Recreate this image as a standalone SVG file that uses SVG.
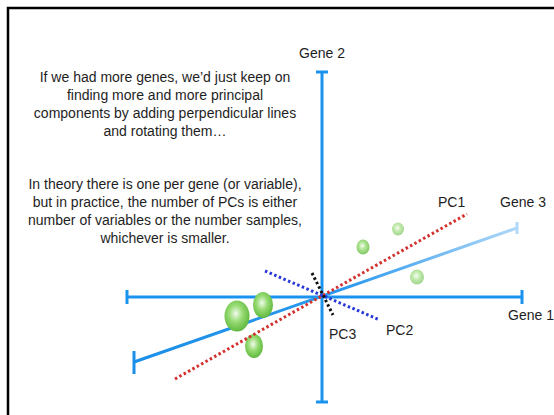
<svg xmlns="http://www.w3.org/2000/svg" width="554" height="415" viewBox="0 0 554 415">
<defs>
<style>
.t{font-family:"Liberation Sans",Arial,sans-serif;font-size:14px;fill:#1e1e1e;text-anchor:middle}
.lbl{font-family:"Liberation Sans",Arial,sans-serif;font-size:14px;fill:#1e1e1e}
.ax{stroke:#1b93ee;stroke-width:3;fill:none}
.dot{stroke-width:3;stroke-dasharray:2.5 2.5;fill:none}
</style>
<linearGradient id="g3" gradientUnits="userSpaceOnUse" x1="134" y1="362" x2="517" y2="228">
<stop offset="0" stop-color="#1b8fe8"/>
<stop offset="0.55" stop-color="#2a98ee"/>
<stop offset="1" stop-color="#b0d8f8"/>
</linearGradient>
<radialGradient id="ball" cx="0.45" cy="0.42" r="0.6">
<stop offset="0" stop-color="#f2fbee"/>
<stop offset="0.45" stop-color="#98dc74"/>
<stop offset="1" stop-color="#5db63c"/>
</radialGradient>
</defs>
<rect x="8" y="8" width="560" height="420" fill="#fff" stroke="#000" stroke-width="2.5"/>

<g id="text-block">
<text class="t" x="165" y="82">If we had more genes, we’d just keep on</text>
<text class="t" x="165" y="100">finding more and more principal</text>
<text class="t" x="165" y="118">components by adding perpendicular lines</text>
<text class="t" x="165" y="136">and rotating them…</text>
<text class="t" x="165" y="189">In theory there is one per gene (or variable),</text>
<text class="t" x="165" y="207">but in practice, the number of PCs is either</text>
<text class="t" x="165" y="225">number of variables or the number samples,</text>
<text class="t" x="165" y="243">whichever is smaller.</text>
</g>

<g id="axes">
<g id="gene1-axis">
<line class="ax" x1="127" y1="297" x2="522" y2="297"/>
<line class="ax" x1="127" y1="290" x2="127" y2="304"/>
<line class="ax" x1="522" y1="290" x2="522" y2="304"/>
</g>
<g id="gene2-axis">
<line class="ax" x1="322" y1="72" x2="322" y2="402"/>
<line class="ax" x1="316" y1="72" x2="328" y2="72"/>
<line class="ax" x1="316" y1="402" x2="328" y2="402"/>
</g>
<g id="gene3-axis">
<line x1="134" y1="362" x2="517" y2="228" stroke="url(#g3)" stroke-width="3"/>
<line x1="134" y1="351" x2="134" y2="374" stroke="#1b8fe8" stroke-width="3"/>
<line x1="517" y1="222" x2="517" y2="234" stroke="#b0d8f8" stroke-width="3"/>
</g>
</g>

<g id="points">
<ellipse cx="237" cy="316" rx="12.5" ry="15.5" fill="url(#ball)"/>
<ellipse cx="263" cy="305" rx="10" ry="13" fill="url(#ball)"/>
<ellipse cx="254" cy="346" rx="9" ry="12" fill="url(#ball)"/>
<ellipse cx="363" cy="247" rx="6.5" ry="7.5" fill="url(#ball)" opacity="0.8"/>
<ellipse cx="398" cy="229" rx="6" ry="6.5" fill="url(#ball)" opacity="0.6"/>
<ellipse cx="417" cy="277" rx="7" ry="7.5" fill="url(#ball)" opacity="0.6"/>
</g>

<g id="connectors">
<line id="pc1" class="dot" stroke="#d3312e" x1="175" y1="379" x2="467" y2="214"/>
<line id="pc2" class="dot" stroke="#2638d8" x1="265" y1="271" x2="380" y2="320"/>
<line id="pc3" class="dot" stroke="#111" x1="312" y1="273" x2="333" y2="315"/>
</g>

<g id="labels">
<text class="lbl" x="322" y="58" text-anchor="middle">Gene 2</text>
<text class="lbl" x="438" y="207">PC1</text>
<text class="lbl" x="500" y="207">Gene 3</text>
<text class="lbl" x="508" y="320">Gene 1</text>
<text class="lbl" x="329" y="339">PC3</text>
<text class="lbl" x="386" y="335">PC2</text>
</g>
</svg>
